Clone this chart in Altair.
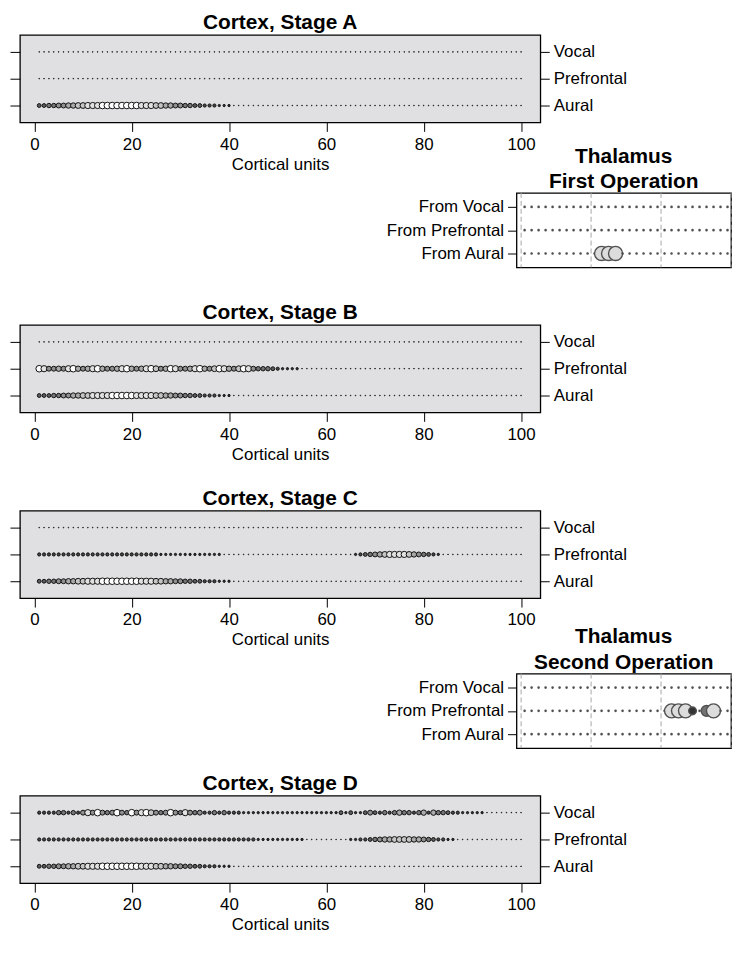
import altair as alt
import pandas as pd

FONT = "Liberation Sans"

REGIONS = ["Aural", "Prefrontal", "Vocal"]
THAL_ROWS = ["From Aural", "From Prefrontal", "From Vocal"]
THAL_COLS = ["Aural", "Prefrontal", "Vocal"]
X_TICKS = [0, 20, 40, 60, 80, 100]
GRID_LINES = [0, 1, 2, 3]
STAGE_TITLES = ["Cortex, Stage A", "Cortex, Stage B", "Cortex, Stage C", "Cortex, Stage D"]
THAL_TITLES = [["Thalamus", "First Operation"], ["Thalamus", "Second Operation"]]

# activation level (0-9) of cortical units 1..100, one string per row
A_AURAL = "3344556677 8889999999 9888776655 4433222111 0000000000 0000000000 0000000000 0000000000 0000000000 0000000000"
A_PREF = "0000000000 0000000000 0000000000 0000000000 0000000000 0000000000 0000000000 0000000000 0000000000 0000000000"
A_VOCAL = "0000000000 0000000000 0000000000 0000000000 0000000000 0000000000 0000000000 0000000000 0000000000 0000000000"

B_AURAL = "3334455667 7888899999 8888776655 4433222111 0000000000 0000000000 0000000000 0000000000 0000000000 0000000000"
B_PREF = "9855658965 6896556896 5689756985 5689657986 5798544432 1111000000 0000000000 0000000000 0000000000 0000000000"
B_VOCAL = "0000000000 0000000000 0000000000 0000000000 0000000000 0000000000 0000000000 0000000000 0000000000 0000000000"

C_AURAL = "3344556677 8889999999 9888776655 4433222111 0000000000 0000000000 0000000000 0000000000 0000000000 0000000000"
C_PREF = "2222222222 2222222222 2222211111 1111111100 0000000000 0000000000 0000012345 6788887654 3210000000 0000000000"
C_VOCAL = "0000000000 0000000000 0000000000 0000000000 0000000000 0000000000 0000000000 0000000000 0000000000 0000000000"

D_AURAL = "3344556677 8889999999 9888776655 4433222111 0000000000 0000000000 0000000000 0000000000 0000000000 0000000000"
D_PREF = "2222222222 2222222222 2222222222 2222222222 2222211111 1111100000 0000112234 5667777665 4322110000 0000000000"
D_VOCAL = "2222442425 8595459549 5897545954 8545224242 2211111111 1111111111 1131311353 2424644246 2644322111 1100000000"

# thalamus: 30 units per row (10 per target region)
T1_AURAL = "0000000000 0999000000 0000000000"
T1_PREF = "0000000000 0000000000 0000000000"
T1_VOCAL = "0000000000 0000000000 0000000000"

T2_AURAL = "0000000000 0000000000 0000000000"
T2_PREF = "0000000000 0000000000 0999406900"
T2_VOCAL = "0000000000 0000000000 0000000000"


def lv(s):
    return [int(c) for c in s.replace(" ", "")]


UNITS = list(range(1, 101))
THAL_UNITS = [round((k + 0.5) / 10, 2) for k in range(30)]


def expr3(names):
    return (f"datum.value == 1 ? '{names[0]}' : datum.value == 2 ? '{names[1]}' : '{names[2]}'")


def cortex_panel(title, rows):
    recs = []
    for pos, vals in enumerate(rows, start=1):
        for u, v in zip(UNITS, lv(vals)):
            recs.append({"unit": u, "row": pos, "level": v})
    df = pd.DataFrame(recs)
    yscale = alt.Scale(domain=[0.37, 3.63], nice=False, zero=False)
    pts = alt.Chart(df).mark_circle(stroke="#111111", strokeWidth=1.0, opacity=1).encode(
        x=alt.X("unit:Q", scale=alt.Scale(domain=[-2.96, 103.96], nice=False, zero=False),
                axis=alt.Axis(values=X_TICKS, tickSize=9, labelPadding=5, titlePadding=4, format="d"),
                title="Cortical units"),
        y=alt.Y("row:Q", scale=yscale,
                axis=alt.Axis(orient="left", values=[1, 2, 3], labels=False, tickSize=10),
                title=None),
        size=alt.Size("level:Q", scale=alt.Scale(domain=[0, 9], range=[0.5, 44]), legend=None),
        fill=alt.Fill("level:Q", scale=alt.Scale(domain=[0, 9], range=["#1a1a1a", "#ffffff"]), legend=None),
    )
    lab = alt.Chart(pd.DataFrame({"row": [1, 2, 3], "region": REGIONS})).mark_circle(opacity=0).encode(
        y=alt.Y("row:Q", scale=yscale,
                axis=alt.Axis(orient="right", values=[1, 2, 3], labelExpr=expr3(REGIONS),
                              tickSize=9, labelPadding=4),
                title=None),
    )
    return alt.layer(pts, lab).resolve_axis(y="independent").properties(
        width=524, height=88,
        title=alt.TitleParams(text=title, offset=2, frame="group", anchor="middle"),
        view=alt.ViewBackground(fill="#e0e0e2", stroke="black", strokeWidth=1.3),
    )


def thal_panel(title, rows):
    recs = []
    for pos, vals in enumerate(rows, start=1):
        for x, v in zip(THAL_UNITS, lv(vals)):
            recs.append({"pos": x, "row": pos, "level": v})
    df = pd.DataFrame(recs)
    xs = alt.Scale(domain=[-0.066, 3.0], nice=False, zero=False)
    ys = alt.Scale(domain=[0.4, 3.6], nice=False, zero=False)
    grid = alt.Chart(pd.DataFrame({"g": GRID_LINES})).mark_rule(
        color="#a6a6a6", strokeDash=[5, 3], strokeWidth=1
    ).encode(x=alt.X("g:Q", scale=xs, axis=None))
    pts = alt.Chart(df).mark_circle(stroke="#505050", strokeWidth=1.4, opacity=1).encode(
        x=alt.X("pos:Q", scale=xs,
                axis=alt.Axis(values=[0.5, 1.5, 2.5],
                              labelExpr=f"datum.value < 1 ? '{THAL_COLS[0]}' : datum.value < 2 ? '{THAL_COLS[1]}' : '{THAL_COLS[2]}'",
                              tickSize=10, labelPadding=8),
                title=None),
        y=alt.Y("row:Q", scale=ys,
                axis=alt.Axis(values=[1, 2, 3], labelExpr=expr3(THAL_ROWS), tickSize=9, labelPadding=4),
                title=None),
        size=alt.Size("level:Q", scale=alt.Scale(domain=[0, 4, 9], range=[1.5, 60, 200]), legend=None),
        fill=alt.Fill("level:Q", scale=alt.Scale(domain=[0, 4, 9], range=["#111111", "#333333", "#dcdcdc"]), legend=None),
    )
    return alt.layer(grid, pts).properties(
        width=216, height=75,
        title=alt.TitleParams(text=title, offset=0, frame="group", anchor="middle", lineHeight=26),
        view=alt.ViewBackground(fill="white", stroke="black", strokeWidth=1.3),
    )


def spacer(h):
    return alt.Chart(pd.DataFrame({"s": [0]})).mark_point(opacity=0, size=1).encode(
        x=alt.X("s:Q", axis=None), y=alt.Y("s:Q", axis=None)
    ).properties(width=1, height=h, view=alt.ViewBackground(strokeOpacity=0))


A = cortex_panel(STAGE_TITLES[0], [A_AURAL, A_PREF, A_VOCAL])
B = cortex_panel(STAGE_TITLES[1], [B_AURAL, B_PREF, B_VOCAL])
C = cortex_panel(STAGE_TITLES[2], [C_AURAL, C_PREF, C_VOCAL])
D = cortex_panel(STAGE_TITLES[3], [D_AURAL, D_PREF, D_VOCAL])
T1 = thal_panel(THAL_TITLES[0], [T1_AURAL, T1_PREF, T1_VOCAL])
T2 = thal_panel(THAL_TITLES[1], [T2_AURAL, T2_PREF, T2_VOCAL])

left = alt.vconcat(A, spacer(6), B, C, spacer(1), D, spacing=99, bounds="flush").resolve_scale(
    size="independent", fill="independent")
right = alt.vconcat(spacer(159), T1, spacer(409), T2, spacing=0, bounds="flush").resolve_scale(
    size="independent", fill="independent")

chart = alt.hconcat(left, right, spacing=500, bounds="flush").resolve_scale(
    size="independent", fill="independent"
).properties(padding=0, background="white").configure_axis(
    labelFont=FONT, labelFontSize=17, labelColor="black", labelFlush=False,
    titleFont=FONT, titleFontSize=17, titleFontWeight="normal", titleColor="black",
    tickColor="black", tickWidth=1, domain=False, grid=False,
).configure_title(
    font=FONT, fontSize=21, fontWeight="bold", color="black",
)

chart.save("out.html", embed_options={"renderer": "svg", "actions": False})
